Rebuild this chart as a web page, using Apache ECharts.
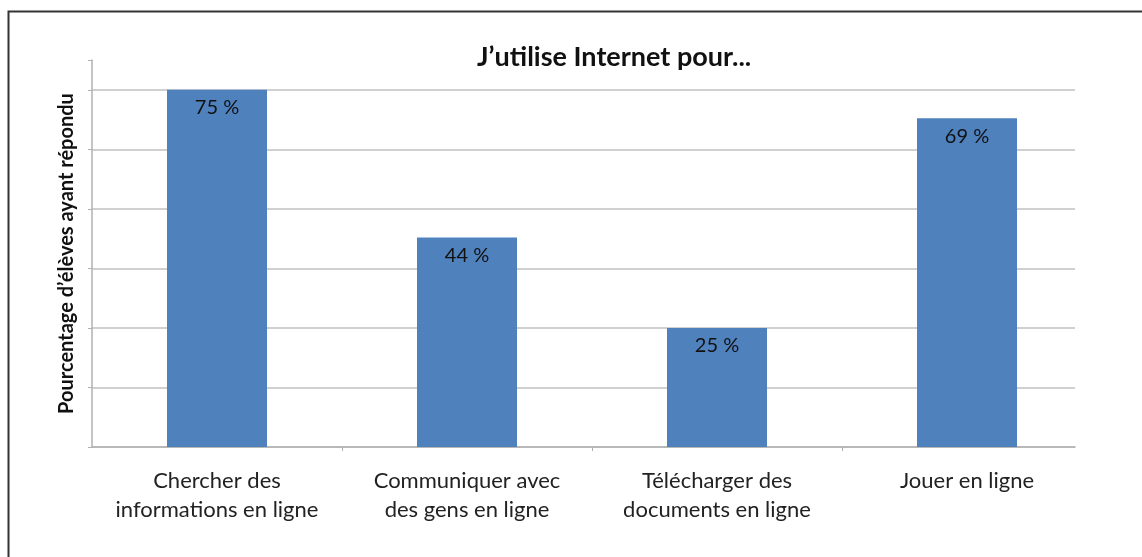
<!DOCTYPE html>
<html>
<head>
<meta charset="utf-8">
<script src="https://cdn.jsdelivr.net/npm/echarts@6/dist/echarts.min.js"></script>
<style>
html, body { margin: 0; padding: 0; background: #fff; }
#chart { width: 1142px; height: 557px; }
</style>
</head>
<body>
<div id="chart"></div>
<script>
// données
var categories = ['Chercher des\ninformations en ligne', 'Communiquer avec\ndes gens en ligne', 'Télécharger des\ndocuments en ligne', 'Jouer en ligne'];
var values = [75, 44, 25, 69];

var chart = echarts.init(document.getElementById('chart'));
var font = 'Lato, "Open Sans", sans-serif';

// position des barres au milieu de chaque catégorie (axe x numérique, coupé à droite comme l'original)
var barData = values.map(function (v, i) { return [i + 0.5, v]; });
var labelPos = categories.map(function (c, i) { return i + 0.5; });

var option = {
    animation: false,
    backgroundColor: '#fff',
    title: {
        text: 'J\u2019utilise Internet pour...',
        left: 472,
        top: 39,
        textStyle: { fontFamily: font, fontSize: 27, fontWeight: 'bold', color: '#111' }
    },
    graphic: [{
        type: 'rect',
        shape: { x: 8.5, y: 11.5, width: 1300, height: 700 },
        style: { fill: 'none', stroke: '#333', lineWidth: 2 },
        silent: true
    }],
    grid: { left: 92, right: 67, top: 60, bottom: 110 },
    xAxis: {
        type: 'value',
        min: 0,
        max: 3.932,
        splitLine: { show: false },
        axisLine: { show: true, lineStyle: { color: '#b0b0b0', width: 1.5 } },
        axisTick: { show: true, customValues: [1, 2, 3], length: 4, lineStyle: { color: '#b0b0b0' } },
        axisLabel: {
            customValues: labelPos,
            formatter: function (v) { return categories[Math.floor(v)]; },
            fontFamily: font, fontSize: 22, color: '#222', lineHeight: 29, margin: 19
        }
    },
    yAxis: {
        type: 'value',
        min: 0,
        max: 81.25,
        interval: 12.5,
        name: 'Pourcentage d\u2019élèves ayant répondu',
        nameLocation: 'middle',
        nameGap: 15,
        nameTextStyle: { fontFamily: font, fontSize: 20, fontWeight: 'bold', color: '#111' },
        axisLine: { show: true, lineStyle: { color: '#b0b0b0', width: 1.5 } },
        axisTick: { show: true, length: 4, lineStyle: { color: '#b0b0b0' } },
        axisLabel: { show: false },
        splitLine: {
            lineStyle: {
                color: ['#c0c0c0', '#c0c0c0', '#c0c0c0', '#c0c0c0', '#c0c0c0', '#c0c0c0', '#c0c0c0', 'rgba(0,0,0,0)'],
                width: 1.5
            }
        }
    },
    series: [{
        type: 'bar',
        data: barData,
        barWidth: 100,
        itemStyle: { color: '#4f81bd' },
        label: {
            show: true,
            position: 'insideTop',
            distance: 8,
            formatter: function (p) { return p.value[1] + ' %'; },
            fontFamily: font,
            fontSize: 20,
            color: '#111'
        }
    }]
};

chart.setOption(option);
</script>
</body>
</html>
